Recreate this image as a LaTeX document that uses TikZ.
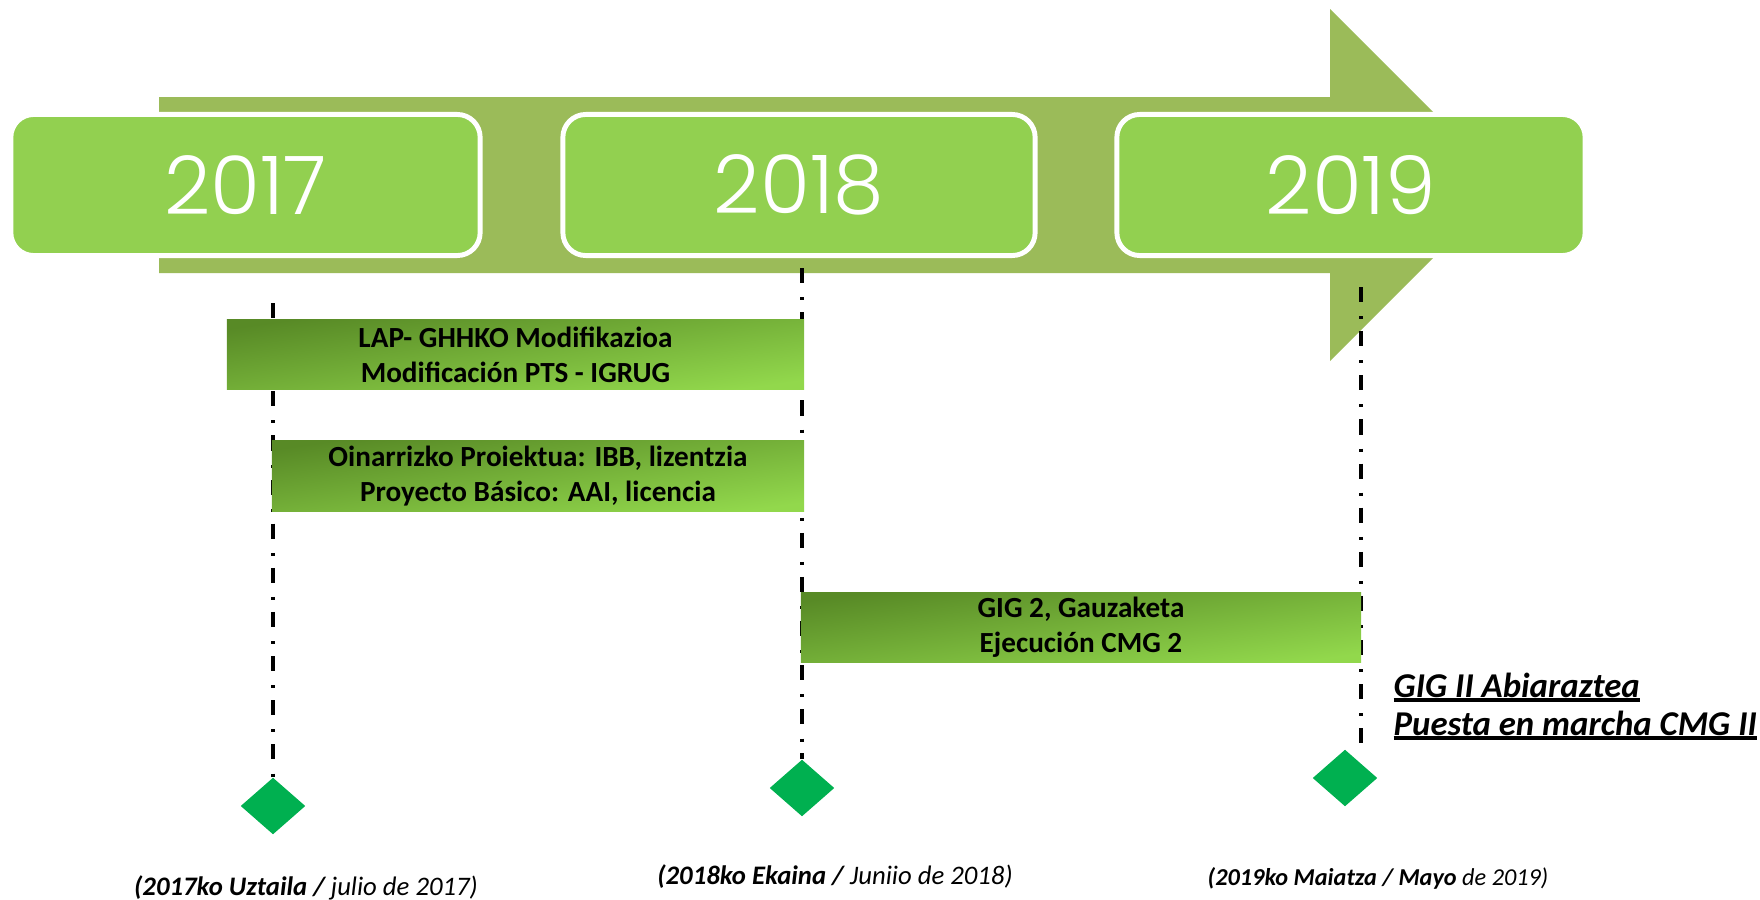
\documentclass[tikz,border=0pt]{standalone}
\usepackage{fontspec}
\setmainfont{Carlito}
\newfontfamily\yearfont{Poppins Light}
\usetikzlibrary{shapes.geometric}
\definecolor{arrowgreen}{HTML}{9BBB59}
\definecolor{boxgreen}{HTML}{92D050}
\definecolor{bardark}{HTML}{588A26}
\definecolor{barlight}{HTML}{92D84C}
\definecolor{diagreen}{HTML}{00B050}
\newcommand\ulthick[1]{\setbox0\hbox{#1}\rlap{\rule[-1.3pt]{\wd0}{0.9pt}}\box0}
\begin{document}
\begin{tikzpicture}[x=0.01cm,y=-0.01cm,
 yearbox/.style={draw=white, line width=1.4pt, fill=boxgreen, rounded corners=6.5pt, minimum height=1.41cm, inner sep=0pt, text=white, font=\yearfont\fontsize{23}{27}\selectfont},
 taskbar/.style={shade, top color=bardark, bottom color=barlight, shading angle=8, inner sep=0pt, align=center, font=\fontsize{8.3}{9.9}\selectfont\bfseries},
 milestone/.style={diamond, fill=diagreen, inner sep=0pt, minimum width=0.65cm, minimum height=0.57cm},
 timeline/.style={line width=0.9pt, dash pattern=on 4.3pt off 4pt on 0.85pt off 3.4pt},
 datelabel/.style={inner sep=0pt, font=\fontsize{7.6}{9}\selectfont\itshape},
 milestonetext/.style={anchor=base west, inner sep=0pt, font=\fontsize{9.9}{12}\selectfont\bfseries\itshape},
]
\useasboundingbox (0,0) rectangle (1760,900);
% big arrow
\fill[arrowgreen] (159,97) -- (1330,97) -- (1330,9) -- (1506,185) -- (1330,361) -- (1330,273) -- (159,273) -- cycle;
% year boxes
\node[yearbox, minimum width=4.69cm] (y2017) at (245.5,185) {2017};
\node[yearbox, minimum width=4.72cm] (y2018) at (799,185) {2018};
\node[yearbox, minimum width=4.68cm] (y2019) at (1351,185) {2019};
% milestones
\coordinate (t1) at (273,303);
\coordinate (t2) at (802,268);
\coordinate (t3) at (1361,287);
\node[milestone] (m1) at (273,806) {};
\node[milestone] (m2) at (802,788) {};
\node[milestone] (m3) at (1345,778) {};
\draw[timeline] (t1) -- (m1.north);
\draw[timeline] (t2) -- (m2.north);
\draw[timeline] (t3) -- (t3 |- m3.north);
% task bars
\node[taskbar, minimum width=5.77cm, minimum height=0.69cm] (b1) at (515.5,354.5) {LAP- GHHKO Modifikazioa\\Modificación PTS - IGRUG};
\node[taskbar, minimum width=5.32cm, minimum height=0.70cm] (b2) at (538,476) {Oinarrizko Proiektua: IBB, lizentzia\\Proyecto Básico: AAI, licencia};
\node[taskbar, minimum width=5.60cm, minimum height=0.69cm] (b3) at (1081,627.5) {GIG 2, Gauzaketa\\Ejecución CMG 2};
% milestone text
\node[milestonetext] (g1) at (1393,697) {\ulthick{GIG II Abiaraztea}};
\node[milestonetext] (g2) at (1393,735) {\ulthick{Puesta en marcha CMG II}};
% date labels
\node[datelabel] (d1) at (306,888) {{\bfseries (2017ko Uztaila /} julio de 2017)};
\node[datelabel] (d2) at (835,877) {{\bfseries (2018ko Ekaina /} Juniio de 2018)};
\node[datelabel, font=\fontsize{6.9}{8}\selectfont\itshape] (d3) at (1378,878) {{\bfseries (2019ko Maiatza / Mayo} de 2019)};
\end{tikzpicture}
\end{document}
